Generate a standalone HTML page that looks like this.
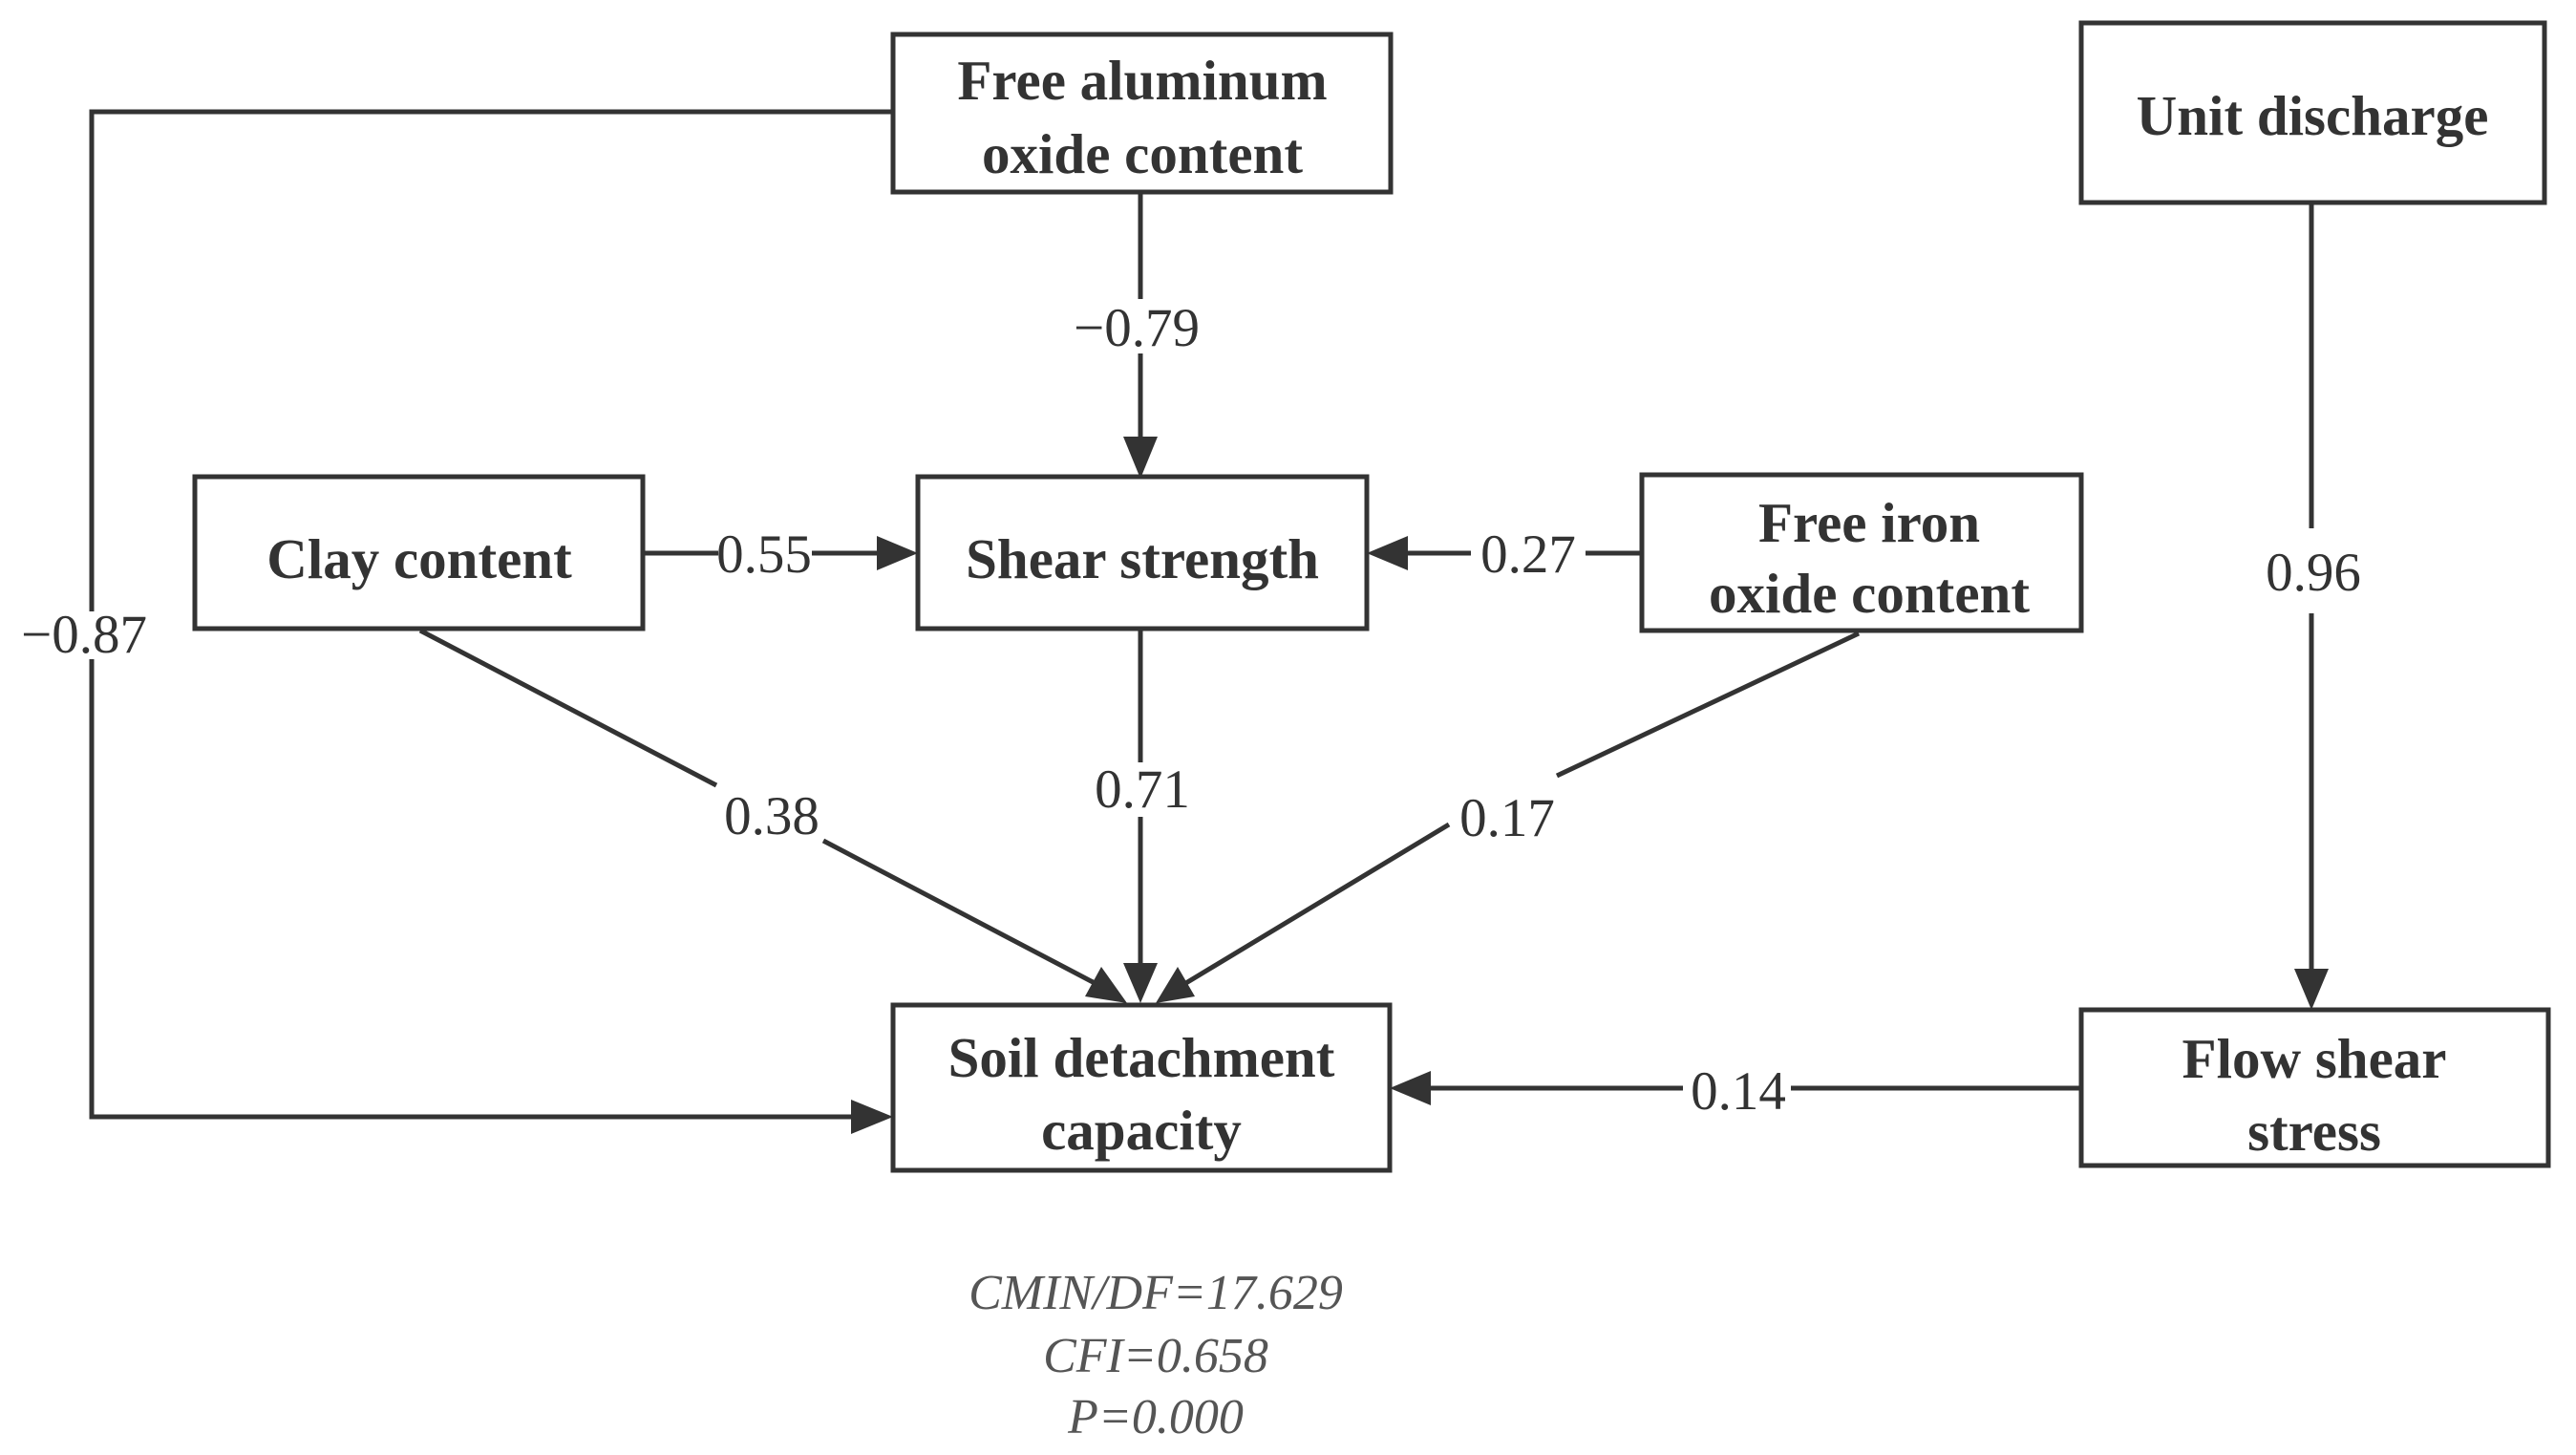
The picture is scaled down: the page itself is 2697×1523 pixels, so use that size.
<!DOCTYPE html>
<html><head><meta charset="utf-8"><style>
html,body{margin:0;padding:0;background:#fff}
svg{display:block}
.b{font-family:"Liberation Serif",serif;font-weight:bold;font-size:59px;fill:#333;text-anchor:middle}
.l{font-family:"Liberation Serif",serif;font-size:57px;fill:#333;text-anchor:middle}
.f{font-family:"Liberation Serif",serif;font-style:italic;font-size:52px;fill:#555;text-anchor:middle}
</style></head><body>
<svg width="2697" height="1523" viewBox="0 0 2697 1523" xmlns="http://www.w3.org/2000/svg">
<g fill="#fff" stroke="#333" stroke-width="5">
<rect x="935" y="36" width="521" height="165"/>
<rect x="2179" y="24" width="485" height="188"/>
<rect x="204" y="499" width="469" height="159"/>
<rect x="961" y="499" width="470" height="159"/>
<rect x="1719" y="497" width="460" height="163"/>
<rect x="935" y="1052" width="520" height="173"/>
<rect x="2179" y="1057" width="489" height="163"/>
</g>
<g stroke="#333" stroke-width="5" fill="none">
<polyline points="935,117 96,117 96,640"/>
<polyline points="96,690 96,1169 895,1169"/>
<line x1="1194" y1="201" x2="1194" y2="313"/>
<line x1="1194" y1="370" x2="1194" y2="462"/>
<line x1="673" y1="579" x2="752" y2="579"/>
<line x1="850" y1="579" x2="925" y2="579"/>
<line x1="1719" y1="579" x2="1660" y2="579"/>
<line x1="1540" y1="579" x2="1467" y2="579"/>
<line x1="1194" y1="658" x2="1194" y2="798"/>
<line x1="1194" y1="855" x2="1194" y2="1015"/>
<line x1="440" y1="660" x2="750" y2="822"/>
<line x1="862" y1="880" x2="1148" y2="1030"/>
<line x1="1946" y1="663" x2="1630" y2="812"/>
<line x1="1517" y1="863" x2="1240" y2="1030"/>
<line x1="2420" y1="212" x2="2420" y2="553"/>
<line x1="2420" y1="642" x2="2420" y2="1020"/>
<line x1="2179" y1="1139" x2="1875" y2="1139"/>
<line x1="1762" y1="1139" x2="1492" y2="1139"/>
</g>
<g fill="#333">
<polygon points="935,1169 891,1151 891,1187"/>
<polygon points="1194,501 1176,457 1212,457"/>
<polygon points="961,579 918,561 918,597"/>
<polygon points="1431,579 1474,561 1474,597"/>
<polygon points="1194,1050 1176,1008 1212,1008"/>
<polygon points="1180,1050 1136,1043 1153,1012"/>
<polygon points="1210,1050 1233,1012 1251,1043"/>
<polygon points="2420,1057 2402,1014 2438,1014"/>
<polygon points="1455,1139 1498,1121 1498,1157"/>
</g>
<text class="b" x="1196" y="104">Free aluminum</text>
<text class="b" x="1196" y="181">oxide content</text>
<text class="b" x="2421" y="141">Unit discharge</text>
<text class="b" x="439" y="605">Clay content</text>
<text class="b" x="1196" y="605">Shear strength</text>
<text class="b" x="1957" y="567">Free iron</text>
<text class="b" x="1957" y="641">oxide content</text>
<text class="b" x="1195" y="1127">Soil detachment</text>
<text class="b" x="1195" y="1203">capacity</text>
<text class="b" x="2423" y="1128">Flow shear</text>
<text class="b" x="2423" y="1204">stress</text>
<text class="l" x="1190" y="362">−0.79</text>
<text class="l" x="800" y="599">0.55</text>
<text class="l" x="1600" y="599">0.27</text>
<text class="l" x="88" y="683">−0.87</text>
<text class="l" x="808" y="873">0.38</text>
<text class="l" x="1196" y="845">0.71</text>
<text class="l" x="1578" y="875">0.17</text>
<text class="l" x="2422" y="618">0.96</text>
<text class="l" x="1820" y="1161">0.14</text>
<text class="f" x="1210" y="1370">CMIN/DF=17.629</text>
<text class="f" x="1210" y="1436">CFI=0.658</text>
<text class="f" x="1210" y="1500">P=0.000</text>
</svg>
</body></html>
